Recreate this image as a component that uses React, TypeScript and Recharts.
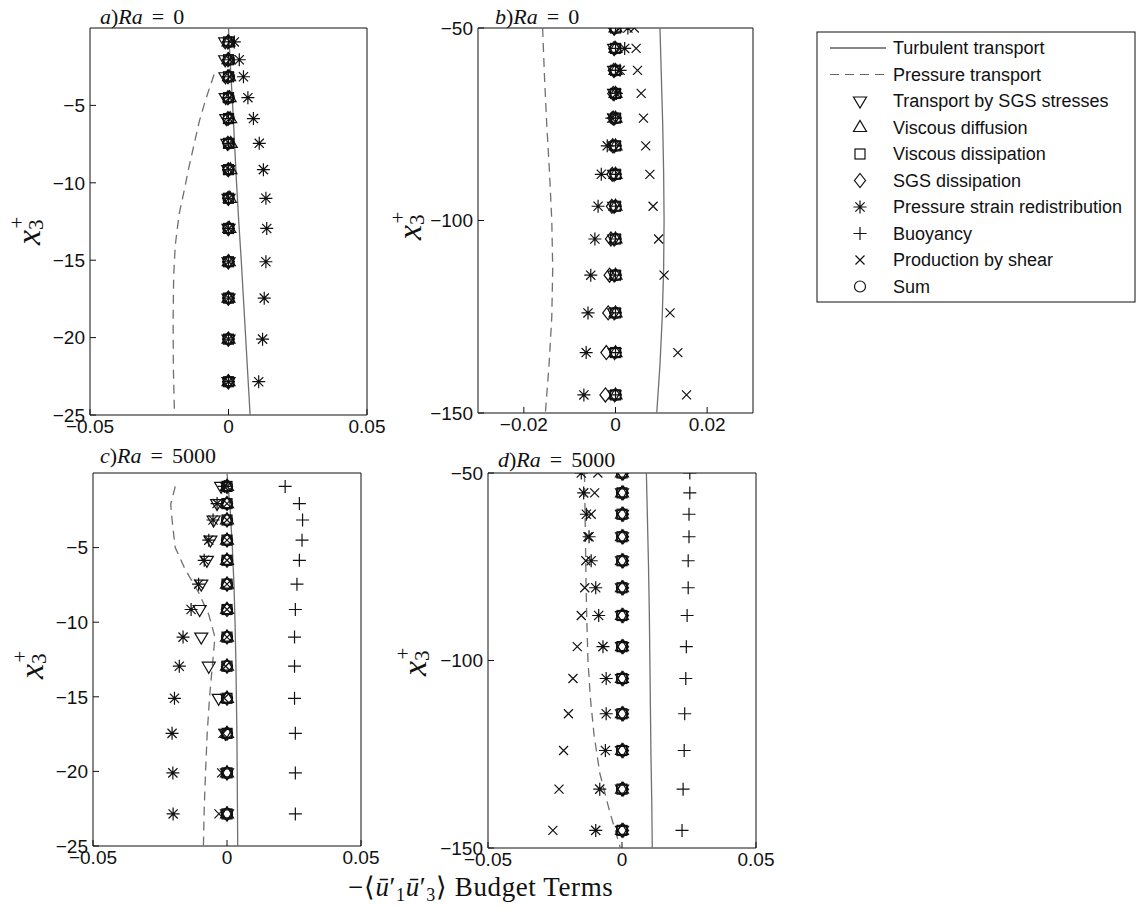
import React from 'react';
import { ScatterChart, Scatter, XAxis, YAxis } from 'recharts';

// sample heights x3+ (a/c near the surface, b/d deeper)
const zNear = [-0.9, -2.05, -3.15, -4.5, -5.85, -7.45, -9.15, -11.0, -12.95, -15.1, -17.45, -20.1, -22.85];
const zFar = [-50, -55.3, -61, -67, -73.4, -80.6, -88, -96.3, -104.8, -114.2, -124, -134.3, -145.3];

// a) Ra = 0, near field
const aSgsTransport = [-0.0012, -0.0012, -0.0011, -0.001, -0.0008, -0.0004, -0.0001, 0, 0, 0, 0, 0, 0];
const aViscDiffusion = [0, 0, 0.0002, 0.0004, 0.0006, 0.0008, 0.0007, 0.0005, 0.0003, 0.0001, 0, 0, 0];
const aViscDissipation = [0, 0, 0, 0, 0, 0, 0, 0, 0, 0, 0, 0, 0];
const aSgsDissipation = [-0.0002, -0.0002, -0.0002, -0.0002, -0.0002, -0.0002, -0.0001, -0.0001, -0.0001, -0.0001, -0.0001, -0.0001, -0.0001];
const aPressStrain = [0.0021, 0.0039, 0.0054, 0.007, 0.009, 0.0111, 0.0126, 0.0135, 0.0138, 0.0135, 0.0129, 0.0123, 0.0109];
const aBuoyancy = [0, 0, 0, 0, 0, 0, 0, 0, 0, 0, 0, 0, 0];
const aShear = [0.0006, 0.0005, 0.0004, 0.0003, 0.0003, 0.0002, 0.0002, 0.0001, 0.0001, 0.0001, 0.0001, 0, 0];
const aSum = [0.0002, 0.0002, 0.0002, 0.0001, 0.0001, 0.0001, 0, 0, 0, 0, 0, 0, 0];
const aTurbZ = [0, -2.5, -5, -7.5, -10, -12.5, -15, -17.5, -20, -22.5, -25];
const aTurbX = [0, 0.0007, 0.0015, 0.0022, 0.0029, 0.0037, 0.0046, 0.0054, 0.0062, 0.007, 0.0078];
const aPresZ = [-3.0, -4.6, -6, -7.5, -9, -10.5, -12, -14, -16, -19, -22, -25];
const aPresX = [-0.0052, -0.0082, -0.0105, -0.0124, -0.0143, -0.016, -0.0178, -0.0192, -0.0198, -0.02, -0.0199, -0.0195];

// b) Ra = 0, far field
const bSgsTransport = [-0.0003, -0.0003, -0.0003, -0.0003, -0.0003, -0.0003, -0.0003, -0.0003, -0.0003, -0.0003, -0.0003, -0.0002, -0.0002];
const bViscDiffusion = [0, 0, 0, 0, 0, 0, 0, 0, 0, 0, 0, 0, 0];
const bViscDissipation = [0, 0, 0, 0, 0, 0, 0, 0, 0, 0, 0, 0, 0];
const bSgsDissipation = [-0.0003, -0.0003, -0.0004, -0.0005, -0.0005, -0.0006, -0.0007, -0.0008, -0.001, -0.0013, -0.0016, -0.002, -0.0022];
const bPressStrain = [0.0027, 0.002, 0.001, 0.0002, -0.0008, -0.0018, -0.0031, -0.0038, -0.0045, -0.0054, -0.006, -0.0064, -0.0069];
const bBuoyancy = [0, 0, 0, 0, 0, 0, 0, 0, 0, 0, 0, 0, 0];
const bShear = [0.0041, 0.0045, 0.0048, 0.0056, 0.0061, 0.0066, 0.0075, 0.0082, 0.0094, 0.0106, 0.0119, 0.0136, 0.0155];
const bSum = [0, 0, 0, 0, 0, 0, 0, 0, 0, 0, 0, 0, 0];
const bTurbZ = [-50, -62.5, -75, -87.5, -100, -112.5, -125, -137.5, -150];
const bTurbX = [0.0097, 0.01, 0.0103, 0.0105, 0.0106, 0.0105, 0.0102, 0.0097, 0.009];
const bPresZ = [-50, -62.5, -75, -87.5, -100, -112.5, -125, -137.5, -150];
const bPresX = [-0.0159, -0.0155, -0.015, -0.0144, -0.0139, -0.0137, -0.0139, -0.0145, -0.0153];

// c) Ra = 5000, near field
const cSgsTransport = [-0.0022, -0.0037, -0.005, -0.0062, -0.0075, -0.0096, -0.0102, -0.0096, -0.0068, -0.0031, -0.0006, 0, 0];
const cViscDiffusion = [0, 0, 0, 0, 0, 0, 0, 0, 0, 0, 0, 0, 0];
const cViscDissipation = [0, 0, 0, 0, 0, 0, 0, 0, 0, 0, 0, 0, 0];
const cSgsDissipation = [0, 0, 0, 0, 0, 0, 0, 0, 0, 0, 0, 0, 0];
const cPressStrain = [-0.001, -0.0037, -0.0052, -0.0068, -0.0085, -0.0106, -0.0134, -0.0164, -0.0178, -0.0196, -0.0205, -0.0202, -0.0201];
const cBuoyancy = [0.0217, 0.027, 0.0282, 0.028, 0.027, 0.0261, 0.0255, 0.0252, 0.0252, 0.0252, 0.0255, 0.0255, 0.0255];
const cShear = [0, 0, 0, 0, 0, 0, 0, 0, -0.0005, -0.001, -0.0015, -0.002, -0.003];
const cSum = [0, 0, 0, 0, 0, 0, 0, 0, 0, 0, 0, 0, 0];
const cTurbZ = [0, -2.5, -5, -7.5, -10, -12.5, -15, -17.5, -20, -22.5, -25];
const cTurbX = [0, 0.0012, 0.002, 0.0026, 0.003, 0.0033, 0.0035, 0.0037, 0.0038, 0.0039, 0.004];
const cPresZ = [-0.9, -2.1, -3.5, -5, -6.5, -8, -9.5, -11, -13, -15, -17.5, -20, -22.5, -25];
const cPresX = [-0.0193, -0.021, -0.0203, -0.0193, -0.0155, -0.0106, -0.0068, -0.0045, -0.0055, -0.0065, -0.0074, -0.008, -0.0085, -0.0088];

// d) Ra = 5000, far field
const dSgsTransport = [0, 0, 0, 0, 0, 0, 0, 0, 0, 0, 0, 0, 0];
const dViscDiffusion = [0, 0, 0, 0, 0, 0, 0, 0, 0, 0, 0, 0, 0];
const dViscDissipation = [0, 0, 0, 0, 0, 0, 0, 0, 0, 0, 0, 0, 0];
const dSgsDissipation = [0.0004, 0.0004, 0.0004, 0.0004, 0.0004, 0.0004, 0.0004, 0.0004, 0.0004, 0.0004, 0.0004, 0.0004, 0.0004];
const dPressStrain = [-0.0152, -0.0143, -0.0133, -0.0123, -0.0115, -0.0098, -0.0087, -0.0071, -0.0059, -0.0059, -0.0062, -0.0083, -0.0098];
const dBuoyancy = [0.0253, 0.0253, 0.025, 0.025, 0.0247, 0.0247, 0.0243, 0.024, 0.0238, 0.0234, 0.0232, 0.0228, 0.0224];
const dShear = [-0.009, -0.0102, -0.0115, -0.0127, -0.0135, -0.0139, -0.0152, -0.0167, -0.0183, -0.02, -0.0218, -0.0235, -0.0258];
const dSum = [0, 0, 0, 0, 0, 0, 0, 0, 0, 0, 0, 0, 0];
const dTurbZ = [-50, -62.5, -75, -87.5, -100, -112.5, -125, -137.5, -150];
const dTurbX = [0.0091, 0.0095, 0.0099, 0.0102, 0.0104, 0.0106, 0.0108, 0.0111, 0.0113];
const dPresZ = [-50, -60, -70, -80, -90, -100, -110, -120, -130, -140, -150];
const dPresX = [-0.014, -0.0138, -0.0136, -0.0134, -0.0131, -0.0127, -0.0118, -0.0104, -0.0083, -0.0047, -0.0006];

const wideTicks = [-0.05, 0, 0.05];
const narrowTicks = [-0.02, 0, 0.02];
const nearTicks = [-25, -20, -15, -10, -5];
const farTicks = [-150, -100, -50];

const KINDS = ['tdown', 'tup', 'square', 'diamond', 'star', 'plus', 'cross', 'circle'];
const TERM_NAMES = [
  'Transport by SGS stresses',
  'Viscous diffusion',
  'Viscous dissipation',
  'SGS dissipation',
  'Pressure strain redistribution',
  'Buoyancy',
  'Production by shear',
  'Sum',
];

const INK = '#111';
const LINE_GREY = '#707070';
const SANS = '"Liberation Sans", Arial, sans-serif';
const SERIF = '"Liberation Serif", "Times New Roman", serif';

const pts = (xs: number[], zs: number[]) => xs.map((x, i) => ({ x, y: zs[i] }));
const fmt = (v: number) => (v < 0 ? '\u2212' + Math.abs(v) : String(v));

function glyph(kind: string, cx: number, cy: number) {
  const s = { fill: 'none', stroke: INK, strokeWidth: 1.2 };
  switch (kind) {
    case 'tdown':
      return <path d={`M${cx - 6.5} ${cy - 4}L${cx + 6.5} ${cy - 4}L${cx} ${cy + 7}Z`} {...s} />;
    case 'tup':
      return <path d={`M${cx - 6.5} ${cy + 4}L${cx + 6.5} ${cy + 4}L${cx} ${cy - 7}Z`} {...s} />;
    case 'square':
      return <rect x={cx - 5} y={cy - 5} width={10} height={10} {...s} />;
    case 'diamond':
      return <path d={`M${cx} ${cy - 7}L${cx + 5.5} ${cy}L${cx} ${cy + 7}L${cx - 5.5} ${cy}Z`} {...s} />;
    case 'star':
      return (
        <path
          d={`M${cx - 6.5} ${cy}H${cx + 6.5}M${cx} ${cy - 6.5}V${cy + 6.5}M${cx - 4.6} ${cy - 4.6}L${cx + 4.6} ${cy + 4.6}M${cx - 4.6} ${cy + 4.6}L${cx + 4.6} ${cy - 4.6}`}
          {...s}
        />
      );
    case 'plus':
      return <path d={`M${cx - 6.5} ${cy}H${cx + 6.5}M${cx} ${cy - 6.5}V${cy + 6.5}`} {...s} />;
    case 'cross':
      return <path d={`M${cx - 4.5} ${cy - 4.5}L${cx + 4.5} ${cy + 4.5}M${cx - 4.5} ${cy + 4.5}L${cx + 4.5} ${cy - 4.5}`} {...s} />;
    default:
      return <circle cx={cx} cy={cy} r={5.5} {...s} />;
  }
}

interface PanelProps {
  box: { l: number; t: number; r: number; b: number };
  xDomain: number[];
  xTicks: number[];
  yDomain: number[];
  yTicks: number[];
  z: number[];
  terms: number[][];
  turb: { x: number[]; z: number[] };
  pres: { x: number[]; z: number[] };
}

function Panel({ box, xDomain, xTicks, yDomain, yTicks, z, terms, turb, pres }: PanelProps) {
  const w = box.r - box.l;
  const h = box.b - box.t;
  const yw = 70;
  const xh = 36;
  const pad = 10;
  const padR = 30;
  const tickFont = { fill: INK, fontSize: 19, fontFamily: SANS };
  return (
    <div style={{ position: 'absolute', left: box.l - yw - pad, top: box.t - pad }}>
      <ScatterChart
        width={w + yw + pad + padR}
        height={h + xh + 2 * pad}
        margin={{ top: pad - 1, right: padR - 1, bottom: pad, left: pad }}
      >
        <XAxis
          type="number"
          dataKey="x"
          domain={xDomain}
          ticks={xTicks}
          interval={0}
          allowDataOverflow
          height={xh}
          tickSize={-6}
          tickMargin={11}
          stroke={INK}
          tick={tickFont}
          tickFormatter={fmt}
        />
        <XAxis
          xAxisId="top"
          orientation="top"
          type="number"
          dataKey="x"
          domain={xDomain}
          ticks={xTicks}
          interval={0}
          allowDataOverflow
          height={1}
          tickSize={-6}
          tick={false}
          stroke={INK}
        />
        <YAxis
          type="number"
          dataKey="y"
          domain={yDomain}
          ticks={yTicks}
          interval={0}
          allowDataOverflow
          width={yw}
          tickSize={-6}
          tickMargin={11}
          stroke={INK}
          tick={tickFont}
          tickFormatter={fmt}
        />
        <YAxis
          yAxisId="right"
          orientation="right"
          type="number"
          dataKey="y"
          domain={yDomain}
          ticks={yTicks}
          interval={0}
          allowDataOverflow
          width={1}
          tickSize={-6}
          tick={false}
          stroke={INK}
        />
        <Scatter
          data={pts(turb.x, turb.z)}
          line={{ stroke: LINE_GREY, strokeWidth: 1.3 }}
          shape={() => <g />}
          isAnimationActive={false}
        />
        <Scatter
          data={pts(pres.x, pres.z)}
          line={{ stroke: LINE_GREY, strokeWidth: 1.3, strokeDasharray: '9 6' }}
          shape={() => <g />}
          isAnimationActive={false}
        />
        {terms.map((xs, i) => (
          <Scatter
            key={KINDS[i]}
            data={pts(xs, z)}
            shape={(p: any) => glyph(KINDS[i], p.cx, p.cy)}
            isAnimationActive={false}
          />
        ))}
      </ScatterChart>
    </div>
  );
}

function Title({ x, y, tag, ra }: { x: number; y: number; tag: string; ra: string }) {
  return (
    <text x={x} y={y} fontFamily={SERIF} fontSize={22} fill={INK}>
      <tspan fontStyle="italic">{tag}</tspan>)<tspan fontStyle="italic">Ra</tspan>
      <tspan dx={9}>=</tspan>
      <tspan dx={9}>{ra}</tspan>
    </text>
  );
}

function ZLabel({ x, y }: { x: number; y: number }) {
  return (
    <text transform={`translate(${x},${y}) rotate(-90)`} fontFamily={SERIF} fill={INK}>
      <tspan fontStyle="italic" fontSize={34}>x</tspan>
      <tspan fontSize={21} dy={3}>3</tspan>
      <tspan fontSize={21} dx={-9} dy={-19}>+</tspan>
    </text>
  );
}

function LegendBox() {
  const left = 817;
  const top = 32;
  const rowH = 26.5;
  const first = 48;
  return (
    <g>
      <rect x={left} y={top} width={318} height={270} fill="#fff" stroke={INK} strokeWidth={1} />
      <line x1={830} x2={886} y1={first} y2={first} stroke={INK} strokeWidth={1.2} />
      <text x={893} y={first + 6} fontFamily={SANS} fontSize={18} fill={INK}>Turbulent transport</text>
      <line x1={830} x2={886} y1={first + rowH} y2={first + rowH} stroke="#666" strokeWidth={1.2} strokeDasharray="9 6" />
      <text x={893} y={first + rowH + 6} fontFamily={SANS} fontSize={18} fill={INK}>Pressure transport</text>
      {TERM_NAMES.map((name, i) => {
        const cy = first + rowH * (i + 2);
        return (
          <g key={name}>
            {glyph(KINDS[i], 860, cy)}
            <text x={893} y={cy + 6} fontFamily={SANS} fontSize={18} fill={INK}>{name}</text>
          </g>
        );
      })}
    </g>
  );
}

export default function App() {
  return (
    <div style={{ position: 'absolute', left: 0, top: 0, width: 1138, height: 909, background: '#fff', fontFamily: SANS }}>
      <Panel
        box={{ l: 90, t: 28, r: 367, b: 415 }}
        xDomain={[-0.05, 0.05]}
        xTicks={wideTicks}
        yDomain={[-25, 0]}
        yTicks={nearTicks}
        z={zNear}
        terms={[aSgsTransport, aViscDiffusion, aViscDissipation, aSgsDissipation, aPressStrain, aBuoyancy, aShear, aSum]}
        turb={{ x: aTurbX, z: aTurbZ }}
        pres={{ x: aPresX, z: aPresZ }}
      />
      <Panel
        box={{ l: 478, t: 28, r: 753, b: 413 }}
        xDomain={[-0.03, 0.03]}
        xTicks={narrowTicks}
        yDomain={[-150, -50]}
        yTicks={farTicks}
        z={zFar}
        terms={[bSgsTransport, bViscDiffusion, bViscDissipation, bSgsDissipation, bPressStrain, bBuoyancy, bShear, bSum]}
        turb={{ x: bTurbX, z: bTurbZ }}
        pres={{ x: bPresX, z: bPresZ }}
      />
      <Panel
        box={{ l: 93, t: 473, r: 361, b: 846 }}
        xDomain={[-0.05, 0.05]}
        xTicks={wideTicks}
        yDomain={[-25, 0]}
        yTicks={nearTicks}
        z={zNear}
        terms={[cSgsTransport, cViscDiffusion, cViscDissipation, cSgsDissipation, cPressStrain, cBuoyancy, cShear, cSum]}
        turb={{ x: cTurbX, z: cTurbZ }}
        pres={{ x: cPresX, z: cPresZ }}
      />
      <Panel
        box={{ l: 488, t: 473, r: 756, b: 848 }}
        xDomain={[-0.05, 0.05]}
        xTicks={wideTicks}
        yDomain={[-150, -50]}
        yTicks={farTicks}
        z={zFar}
        terms={[dSgsTransport, dViscDiffusion, dViscDissipation, dSgsDissipation, dPressStrain, dBuoyancy, dShear, dSum]}
        turb={{ x: dTurbX, z: dTurbZ }}
        pres={{ x: dPresX, z: dPresZ }}
      />
      <svg width={1138} height={909} style={{ position: 'absolute', left: 0, top: 0, pointerEvents: 'none' }}>
        <Title x={100} y={24} tag="a" ra="0" />
        <Title x={495} y={24} tag="b" ra="0" />
        <Title x={100} y={463} tag="c" ra="5000" />
        <Title x={498} y={467} tag="d" ra="5000" />
        <ZLabel x={40} y={245} />
        <ZLabel x={421} y={240} />
        <ZLabel x={43} y={679} />
        <ZLabel x={426} y={676} />
        <text x={348} y={896} fontFamily={SERIF} fontSize={27} letterSpacing={0.6} fill={INK}>
          {'\u2212\u27E8'}
          <tspan fontStyle="italic">{'\u016B'}</tspan>
          {'\u2032'}
          <tspan fontSize={18} dy={5}>1</tspan>
          <tspan fontStyle="italic" dy={-5}>{'\u016B'}</tspan>
          {'\u2032'}
          <tspan fontSize={18} dy={5}>3</tspan>
          <tspan dy={-5}>{'\u27E9 Budget Terms'}</tspan>
        </text>
        <LegendBox />
      </svg>
    </div>
  );
}
